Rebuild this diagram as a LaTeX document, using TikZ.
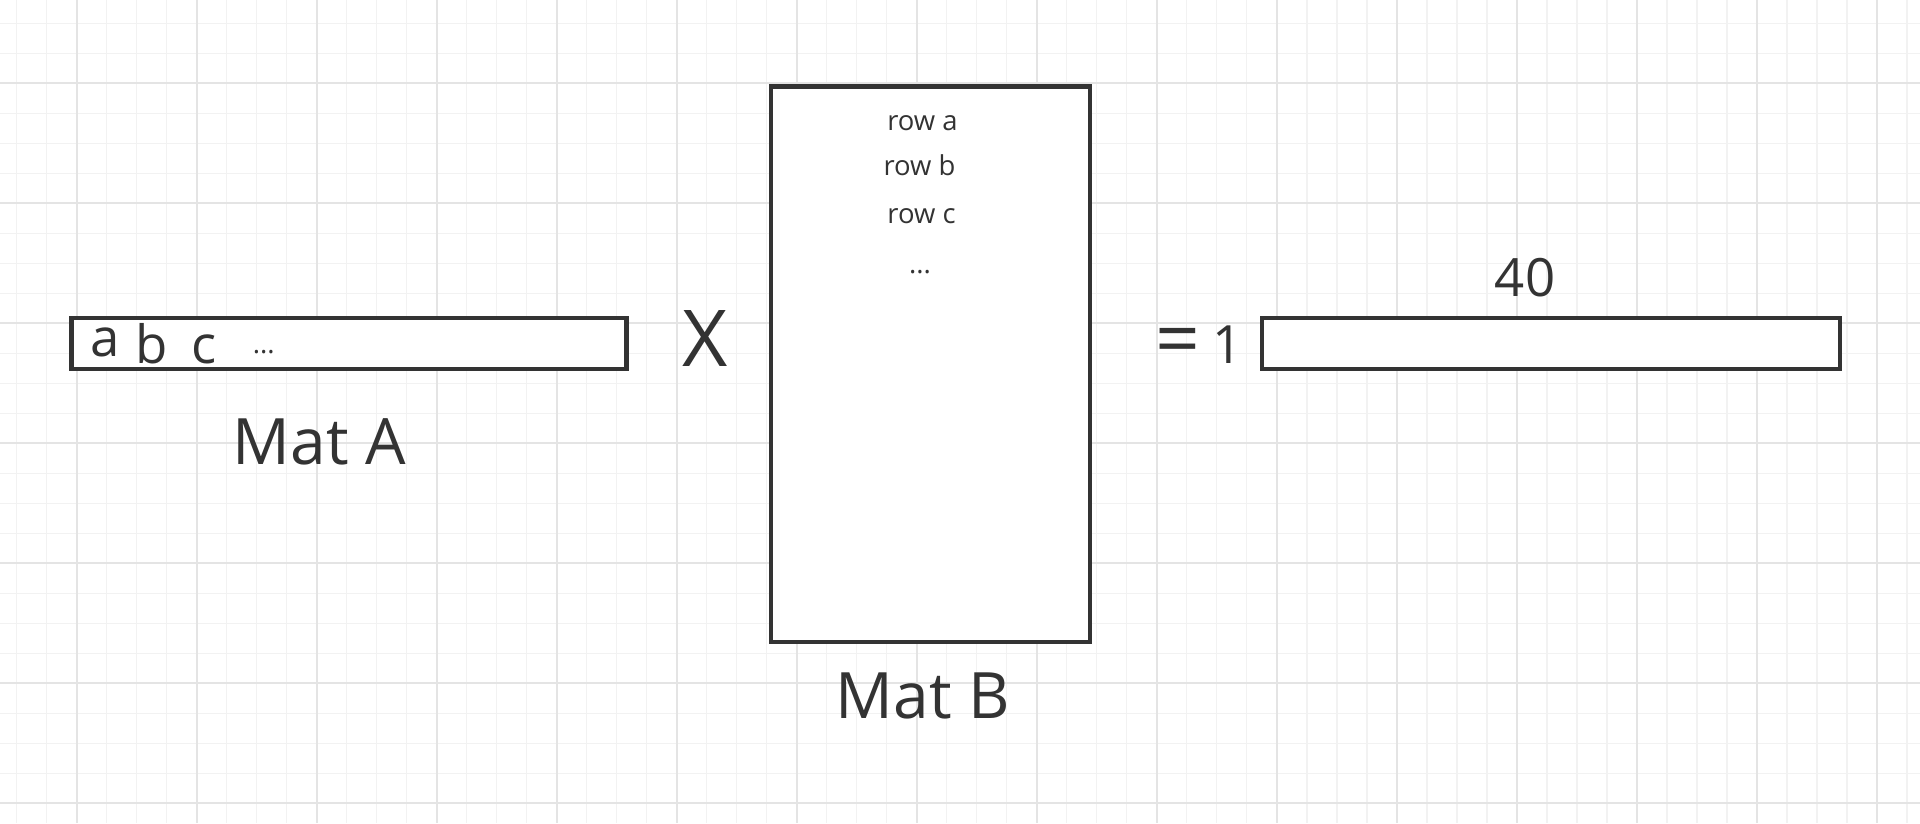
\documentclass[tikz,border=0pt]{standalone}
\usepackage{fontspec}
\setmainfont{Open Sans}
\definecolor{ink}{HTML}{333333}
\definecolor{gridminor}{HTML}{F2F2F2}
\definecolor{gridmajor}{HTML}{E4E4E4}

\begin{document}
\begin{tikzpicture}[x=0.01cm, y=-0.01cm]
            \tikzset{minor/.style = {gridminor, line width=0.45pt}}
            \tikzset{major/.style = {gridmajor, line width=0.6pt}}
            \tikzset{mat/.style = {draw=ink, fill=white, line width=1.2pt, inner sep=0pt}}
            \tikzset{txt/.style = {text=ink, inner sep=0pt, anchor=base}}
            \tikzset{fhuge/.style = {font=\fontsize{22.3}{26}\selectfont}}
            \tikzset{fbig/.style = {font=\fontsize{18.2}{22}\selectfont}}
            \tikzset{fmid/.style = {font=\fontsize{15}{18}\selectfont}}
            \tikzset{fsmall/.style = {font=\fontsize{7.8}{10}\selectfont}}
            \useasboundingbox (0, 0) rectangle (1920, 823);
            \fill[white] (0, 0) rectangle (1920, 823);
            % background grid
            \foreach \i in {0,...,63} \draw[minor] ({16.7+30*\i}, 0) -- ++(0, 823);
            \foreach \j in {0,...,26} \draw[minor] (0, {23.3+30*\j}) -- ++(1920, 0);
            \foreach \i in {0,...,15} \draw[major] ({76.7+120*\i}, 0) -- ++(0, 823);
            \foreach \j in {0,...,6} \draw[major] (0, {83.3+120*\j}) -- ++(1920, 0);
            % matrices
            \node[mat, minimum width=5.545cm, minimum height=0.51cm] (matA) at (349, 343.5) {};
            \node[mat, minimum width=3.185cm, minimum height=5.55cm] (matB) at (930.5, 364.2) {};
            \node[mat, minimum width=5.775cm, minimum height=0.51cm] (res) at (1551, 343.5) {};
            % mat A
            \node[txt, fmid] (ea) at (104.7, 356) {a};
            \node[txt, fmid] (eb) at (152, 363.3) {b};
            \node[txt, fmid] (ec) at (204.5, 363.3) {c};
            \node[txt, fsmall] (edots) at (263.7, 353) {...};
            \node[txt, fbig] (labA) at (319.5, 464) {Mat A};
            \node[txt, fhuge] (times) at (705, 366) {X};
            % mat B
            \node[txt, fsmall] (rowa) at (922.5, 130) {row a};
            \node[txt, fsmall] (rowb) at (919.5, 175) {row b};
            \node[txt, fsmall] (rowc) at (921.5, 223.3) {row c};
            \node[txt, fsmall] (rowdots) at (920, 273) {...};
            \node[txt, fbig] (labB) at (922.8, 718.3) {Mat B};
            % result
            \node[text=ink, inner sep=0pt, fhuge] (eq) at (1178, 347) {=};
            \node[txt, fmid] (one) at (1228, 363.3) {1};
            \node[txt, fmid] (cols) at (1525, 296.7) {40};
        \end{tikzpicture}
\end{document}
